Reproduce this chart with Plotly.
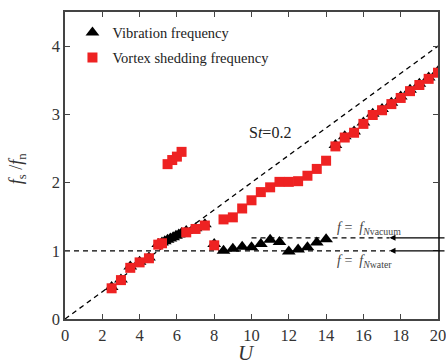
import plotly.graph_objects as go

# Vibration frequency (black triangles)
vib_U = [2.5, 3.0, 3.5, 4.0, 4.5, 5.0, 5.2, 5.35, 5.5, 5.65, 5.8, 5.95, 6.1, 6.25,
         6.5, 7.0, 7.5, 8.0, 8.5, 9.0, 9.5, 10.0, 10.5, 11.0, 11.5, 12.0, 12.5, 13.0,
         13.5, 14.0, 14.5, 15.0, 15.5, 16.0, 16.5, 17.0, 17.5, 18.0, 18.5, 19.0, 19.5, 20.0]
vib_f = [0.47, 0.58, 0.77, 0.84, 0.9, 1.1, 1.12, 1.14, 1.16, 1.18, 1.2, 1.22, 1.24, 1.26,
         1.29, 1.33, 1.39, 1.1, 1.0, 1.03, 1.06, 1.05, 1.1, 1.16, 1.13, 0.99, 1.02, 1.05,
         1.12, 1.17, 2.55, 2.68, 2.75, 2.88, 3.01, 3.08, 3.17, 3.26, 3.36, 3.45, 3.54, 3.63]

# Vortex shedding frequency (red squares)
vor_U = [2.5, 3.0, 3.5, 4.0, 4.5, 5.0, 5.2, 6.5, 7.0, 7.5, 8.0,
         5.5, 5.75, 6.0, 6.25,
         8.5, 9.0, 9.5, 10.0, 10.5, 11.0, 11.5, 12.0, 12.5, 13.0, 13.5, 14.0,
         14.5, 15.0, 15.5, 16.0, 16.5, 17.0, 17.5, 18.0, 18.5, 19.0, 19.5, 20.0]
vor_f = [0.45, 0.57, 0.75, 0.83, 0.89, 1.09, 1.11, 1.27, 1.32, 1.37, 1.08,
         2.27, 2.33, 2.38, 2.45,
         1.46, 1.49, 1.62, 1.74, 1.86, 1.93, 2.01, 2.01, 2.02, 2.1, 2.2, 2.32,
         2.53, 2.66, 2.73, 2.86, 2.99, 3.06, 3.15, 3.24, 3.34, 3.43, 3.52, 3.61]

# Reference lines
st_U = [0, 20]
st_f = [0, 4.0]
water_U = [0, 17.4]
water_f = [1.0, 1.0]
vac_U = [10.0, 17.4]
vac_f = [1.19, 1.19]

x_ticks = [0, 2, 4, 6, 8, 10, 12, 14, 16, 18, 20]
y_ticks = [0, 1, 2, 3, 4]

FONT = "Liberation Serif"
RED = "#EE2222"

fig = go.Figure()

for xs, ys in [(st_U, st_f), (water_U, water_f), (vac_U, vac_f)]:
    fig.add_trace(go.Scatter(x=xs, y=ys, mode="lines", showlegend=False,
                             line=dict(color="black", width=1.3, dash="5px,4px"),
                             hoverinfo="skip"))

fig.add_trace(go.Scatter(x=vib_U, y=vib_f, mode="markers", name="Vibration frequency",
                         legendgroup="a",
                         marker=dict(symbol="triangle-up", color="black", size=12,
                                     line=dict(width=0))))
fig.add_trace(go.Scatter(x=vor_U, y=vor_f, mode="markers", name="Vortex shedding frequency",
                         legendgroup="b",
                         marker=dict(symbol="square", color=RED, size=10,
                                     line=dict(width=0))))

axis_common = dict(showline=True, linecolor="#444", linewidth=1.5, mirror="ticks",
                   ticks="inside", ticklen=5, tickwidth=1.2, tickcolor="#444",
                   showgrid=False, zeroline=False, automargin=False,
                   ticklabeloverflow="allow",
                   tickfont=dict(family=FONT, size=16.5, color="#333"))

fig.update_xaxes(range=[0, 20], tickvals=x_ticks, **axis_common)
fig.update_yaxes(range=[0, 4.5], tickvals=y_ticks, **axis_common)

ann = []
for yv in [vac_f[0], water_f[0]]:
    ann.append(dict(x=17.4, y=yv, xref="x", yref="y", ax=58, ay=0, text="",
                    showarrow=True, arrowhead=2, arrowsize=1, arrowwidth=1.2,
                    arrowcolor="black"))
ann.append(dict(x=11.0, y=2.74, xref="x", yref="y", showarrow=False,
                text="S<i>t</i>=0.2", font=dict(family=FONT, size=16, color="#222")))
ann.append(dict(x=14.5, y=1.32, xref="x", yref="y", showarrow=False, xanchor="left",
                text="<i>f</i> =  <i>f</i><sub><i>N</i>vacuum</sub>",
                font=dict(family=FONT, size=14, color="#444")))
ann.append(dict(x=14.5, y=0.84, xref="x", yref="y", showarrow=False, xanchor="left",
                text="<i>f</i> =  <i>f</i><sub><i>N</i>water</sub>",
                font=dict(family=FONT, size=14, color="#444")))
# axis titles
ann.append(dict(x=0.487, y=-0.112, xref="paper", yref="paper", showarrow=False,
                xanchor="center", yanchor="middle",
                text="<i>U</i>", font=dict(family=FONT, size=21, color="#333")))
ann.append(dict(x=-0.127, y=0.49, xref="paper", yref="paper", showarrow=False,
                xanchor="center", yanchor="middle", textangle=-90,
                text="<i>f</i><sub>s</sub> /<i>f</i><sub>n</sub>",
                font=dict(family=FONT, size=18, color="#333")))

fig.update_layout(
    width=446, height=364,
    margin=dict(l=65, r=8, t=12, b=45),
    paper_bgcolor="white", plot_bgcolor="white",
    showlegend=True,
    legend=dict(x=0.02, y=0.985, xanchor="left", yanchor="top",
                bgcolor="rgba(0,0,0,0)", tracegroupgap=3,
                font=dict(family=FONT, size=14.5, color="#222")),
    annotations=ann,
)

fig.write_html("out.html")
